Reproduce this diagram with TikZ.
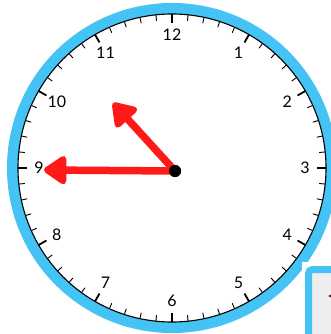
\documentclass[tikz,border=0pt]{standalone}
\usepackage{fontspec}
\setmainfont{Lato}
\usepackage{tikz}
\usetikzlibrary{arrows.meta}
\definecolor{ringblue}{HTML}{45C3F5}
\definecolor{handred}{HTML}{FF1A1A}
\definecolor{panelgray}{HTML}{EEEEEE}

\begin{document}
\begin{tikzpicture}[x=1pt, y=-1pt,
    ring/.style = {draw=ringblue, line width=11pt},
    face/.style = {draw=black, line width=1.1pt, fill=white},
    num/.style = {font=\fontsize{16}{16}\selectfont, inner sep=0pt},
    hand/.style = {draw=handred, line width=7.5pt, line cap=round,
                   -{Triangle[length=25pt, width=32pt, round]}},
    pivot/.style = {circle, fill=black, minimum size=12pt, inner sep=0pt}]

    \useasboundingbox (0,0) rectangle (331,334);
    \clip (0,0) rectangle (331,334);

    % clock face
    \draw[ring] (172,168) circle (159.5);
    \draw[face] (172,168) circle (154);

    % minute ticks
    \foreach \i in {0,...,59} {
        \pgfmathtruncatemacro{\hr}{mod(\i,5)==0 ? 1 : 0}
        \ifnum\hr=1
            \draw[line width=1.8pt] ([shift={(6*\i-90:154)}]172,168) -- ([shift={(6*\i-90:145)}]172,168);
        \else
            \draw[line width=0.9pt] ([shift={(6*\i-90:154)}]172,168) -- ([shift={(6*\i-90:148)}]172,168);
        \fi
    }

    % numbers
    \foreach \n in {1,...,12}
        \node[num] (h\n) at ([shift={(30*\n-90:133)}]172,168) {\n};

    % hands
    \node[pivot] (c) at (175,171) {};
    \coordinate (m) at (44,170);
    \coordinate (h) at (113,103);
    \draw[hand] (c.center) -- (m);
    \draw[hand] (c.center) -- (h);
    \node[pivot] at (c) {};

    % corner panel
    \fill[white] (302,262) rectangle (345,345);
    \draw[draw=ringblue, line width=7pt, fill=panelgray, rounded corners=4pt] (308.5,269.5) rectangle (350,350);
    \fill[black!60!red] (330,296) circle (1.3);
\end{tikzpicture}
\end{document}
